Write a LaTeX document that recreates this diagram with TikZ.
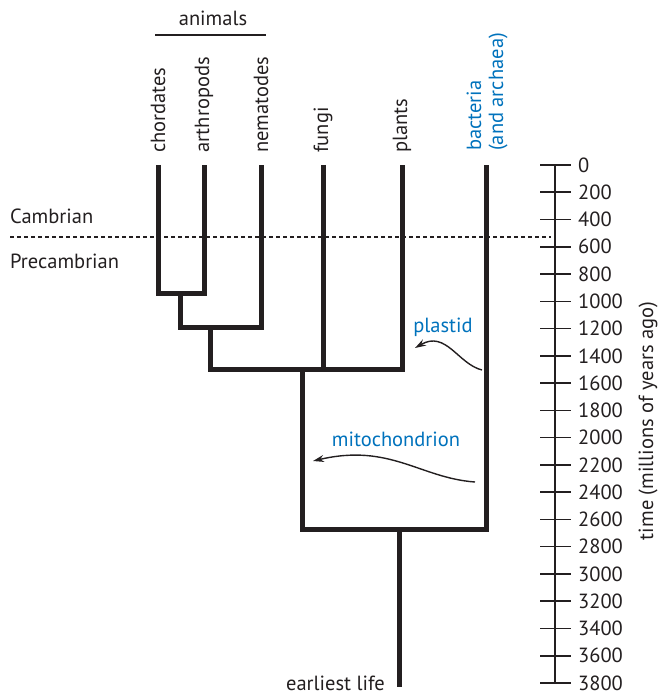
\documentclass[tikz,border=0pt]{standalone}
\usepackage{fontspec}
\setmainfont{PT Sans}
\usetikzlibrary{arrows.meta}
\definecolor{ink}{RGB}{35,31,32}
\definecolor{sciblue}{RGB}{0,114,188}
\begin{document}
\begin{tikzpicture}[x=1pt,y=-1pt,
  every node/.style={font=\fontsize{20.5}{22}\selectfont, text=ink, inner sep=0pt},
  branch/.style={draw=ink, line width=5pt},
  taxon/.style={rotate=90, anchor=west},
  ticklab/.style={anchor=west},
  transfer/.style={draw=ink, line width=1.4pt, -{Stealth[length=11pt,width=7pt]}},
  bluelab/.style={text=sciblue}]
\useasboundingbox (0,0) rectangle (658,695);
% leaves
\coordinate (chL) at (158,165);
\coordinate (arL) at (204,165);
\coordinate (neL) at (261,165);
\coordinate (fuL) at (323,165);
\coordinate (plL) at (402,165);
\coordinate (baL) at (486,165);
% internal nodes
\coordinate (n1) at (180,293);
\coordinate (n2) at (210,327);
\coordinate (n3) at (302,369);
\coordinate (n4) at (399,529);
\coordinate (root) at (399,687);
% branches
\draw[branch] (chL) |- (n1) -| (arL);
\draw[branch] (n1) |- (n2) -| (neL);
\draw[branch] (n2) |- (n3) -| (plL);
\draw[branch] (fuL) -- (fuL |- n3);
\draw[branch] (n3) |- (n4) -| (baL);
\draw[branch] (n4) -- (root);
% labels
\node[taxon] (tch) at (158,153) {chordates};
\node[taxon] (tar) at (204,153) {arthropods};
\node[taxon] (tne) at (261,153) {nematodes};
\node[taxon] (tfu) at (323,153) {fungi};
\node[taxon] (tpl) at (402,153) {plants};
\node[taxon, align=left, bluelab] (tba) at (487,151) {bacteria\\(and archaea)};
\node (anim) at (213,18) {animals};
\coordinate (aL) at (155,35);
\coordinate (aR) at (266,35);
\draw[ink, line width=1.2pt] (aL) -- (aR);
% Cambrian boundary
\coordinate (dL) at (10,237);
\coordinate (dR) at (551,237);
\draw[ink, line width=1.3pt, dash pattern=on 4pt off 3pt] (dL) -- (dR);
\node[anchor=west] (camb) at (10,216) {Cambrian};
\node[anchor=west] (precamb) at (10,261) {Precambrian};
% transfers
\node[bluelab] (plas) at (443,327) {plastid};
\node[bluelab] (mito) at (396,439) {mitochondrion};
\coordinate (pS) at (482,370);
\coordinate (pE) at (415,348);
\draw[transfer] (pS) .. controls (458,364) and (446,330) .. (pE);
\coordinate (mS) at (475,482);
\coordinate (mE) at (313,461);
\draw[transfer] (mS) .. controls (420,478) and (390,443) .. (mE);
\node[anchor=base east] (earl) at (385,690) {earliest life};
% time axis
\coordinate (axT) at (555,165);
\coordinate (axB) at (555,683);
\draw[ink, line width=1.6pt] (axT) -- (axB);
\foreach \v [count=\i from 0] in {0,200,400,600,800,1000,1200,1400,1600,1800,2000,2200,2400,2600,2800,3000,3200,3400,3600,3800} {
  \pgfmathsetmacro{\yy}{165+\i*27.263}
  \draw[ink, line width=1.6pt] (540,\yy) -- (571,\yy);
  \node[ticklab] (t\i) at (578,\yy) {\v};
}
\node[rotate=90] (axlab) at (648,421) {time (millions of years ago)};
\end{tikzpicture}
\end{document}
